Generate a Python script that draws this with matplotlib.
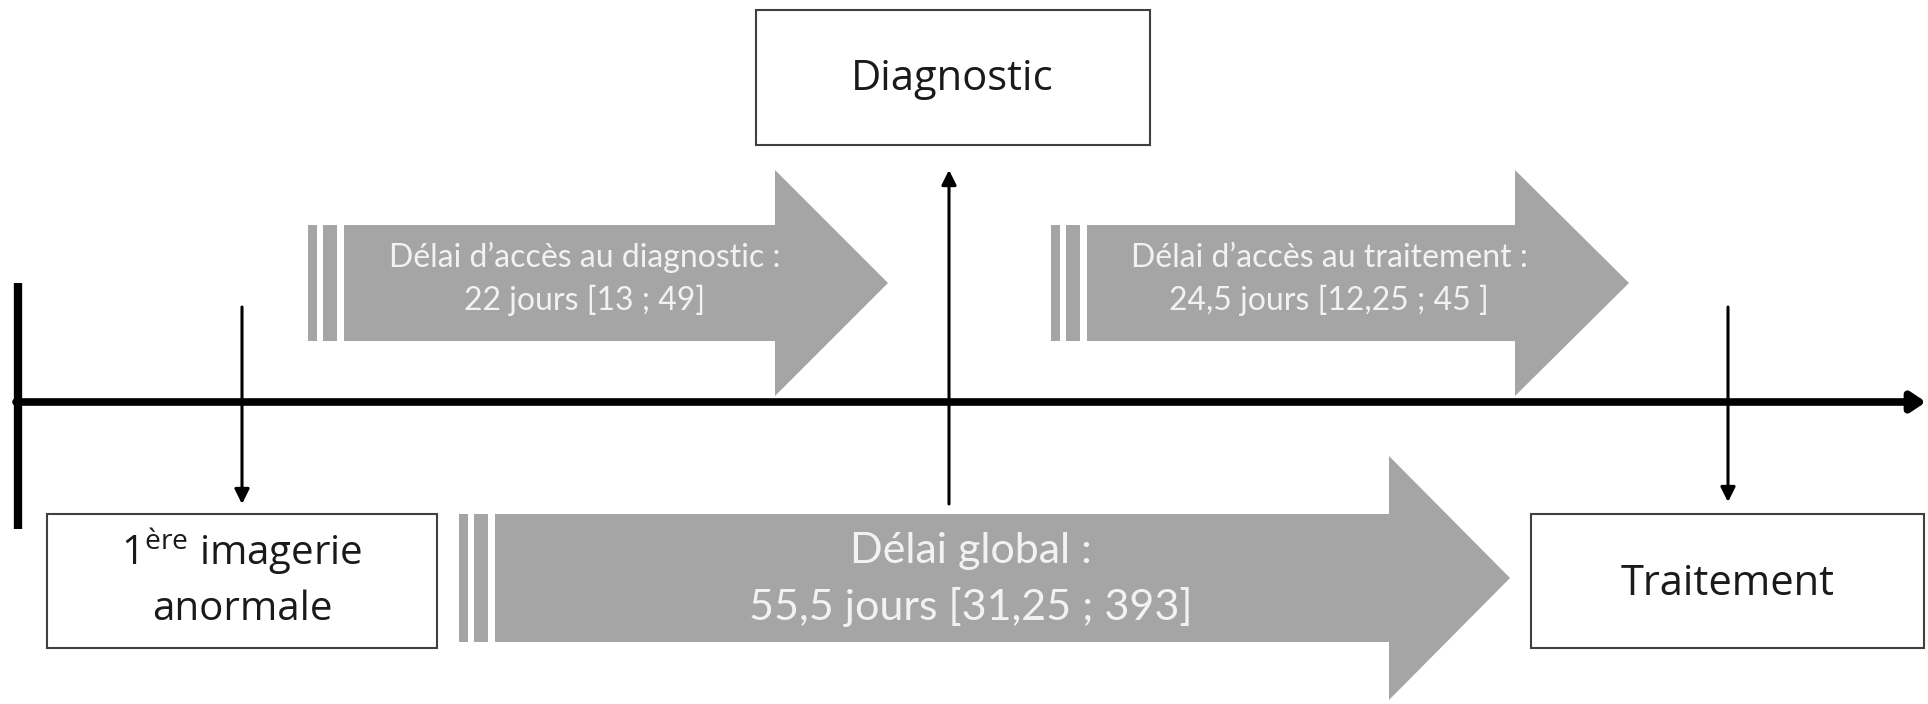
import matplotlib.pyplot as plt
from matplotlib.patches import Polygon, Rectangle

plt.rcParams['mathtext.fontset'] = 'custom'
plt.rcParams['mathtext.rm'] = 'Open Sans'

# diagram content
stage_names = ["1$^{\\mathrm{ère}}$ imagerie\nanormale", "Diagnostic", "Traitement"]
delay_names = ["Délai d’accès au diagnostic :", "Délai d’accès au traitement :", "Délai global :"]
median_days = ["22", "24,5", "55,5"]
q1_days = ["13", "12,25", "31,25"]
q3_days = ["49", "45 ", "393"]

GREY = "#a5a5a5"
TXT = "#f2f2f2"

fig = plt.figure(figsize=(19.28, 7.04), dpi=100)
ax = fig.add_axes([0, 0, 1, 1])
ax.set_xlim(0, 1928)
ax.set_ylim(704, 0)
ax.axis('off')


def block_arrow(x0, body_end, tip, yc, half_body, half_head):
    # two thin stripes then the arrow body + head
    ax.add_patch(Rectangle((x0, yc - half_body), 9, 2 * half_body, color=GREY, lw=0))
    ax.add_patch(Rectangle((x0 + 15, yc - half_body), 14, 2 * half_body, color=GREY, lw=0))
    xb = x0 + 36
    pts = [(xb, yc - half_body), (body_end, yc - half_body), (body_end, yc - half_head),
           (tip, yc), (body_end, yc + half_head), (body_end, yc + half_body), (xb, yc + half_body)]
    ax.add_patch(Polygon(pts, closed=True, color=GREY, lw=0))


# timeline
ax.plot([18, 18], [283, 529], color='black', lw=6, solid_capstyle='butt')
ax.annotate('', xy=(1926, 402), xytext=(16, 402), annotation_clip=False,
            arrowprops=dict(arrowstyle='-|>,head_length=0.6,head_width=0.4', lw=5.5,
                            color='black', mutation_scale=14, shrinkA=0, shrinkB=0))

# event arrows
for x, y0, y1 in [(242, 307, 504), (949, 504, 170), (1728, 307, 502)]:
    ax.annotate('', xy=(x, y1), xytext=(x, y0), annotation_clip=False,
                arrowprops=dict(arrowstyle='-|>', lw=2.2, color='black', mutation_scale=22,
                                shrinkA=0, shrinkB=0))

# block arrows
block_arrow(308, 775, 888, 283, 58, 113)
block_arrow(1051, 1515, 1629, 283, 58, 113)
block_arrow(459, 1389, 1510, 578, 64, 122)

# texts in arrows
centers = [(585, 267, 310, 23), (1329, 267, 310, 23), (971, 563, 620, 31)]
for i, (cx, yb1, yb2, fs) in enumerate(centers):
    ax.text(cx, yb1, delay_names[i], ha='center', va='baseline', color=TXT,
            fontsize=fs, family='Lato')
    ax.text(cx, yb2, f"{median_days[i]} jours [{q1_days[i]} ; {q3_days[i]}]", ha='center',
            va='baseline', color=TXT, fontsize=fs, family='Lato')

# boxes
boxes = [(47, 514, 390, 134), (756, 10, 394, 135), (1531, 514, 393, 134)]
for (bx, by, bw, bh) in boxes:
    ax.add_patch(Rectangle((bx, by), bw, bh, fill=False, ec='#404040', lw=1.5))

first, second = stage_names[0].split("\n")
ax.text(242, 565, first, ha='center', va='baseline', fontsize=29, family='Open Sans', color='#1a1a1a')
ax.text(242, 620, second, ha='center', va='baseline', fontsize=29, family='Open Sans', color='#1a1a1a')
ax.text(952, 90, stage_names[1], ha='center', va='baseline', fontsize=30, family='Open Sans', color='#1a1a1a')
ax.text(1728, 595, stage_names[2], ha='center', va='baseline', fontsize=30, family='Open Sans', color='#1a1a1a')

fig.savefig('out.png', dpi=100, facecolor='white')
